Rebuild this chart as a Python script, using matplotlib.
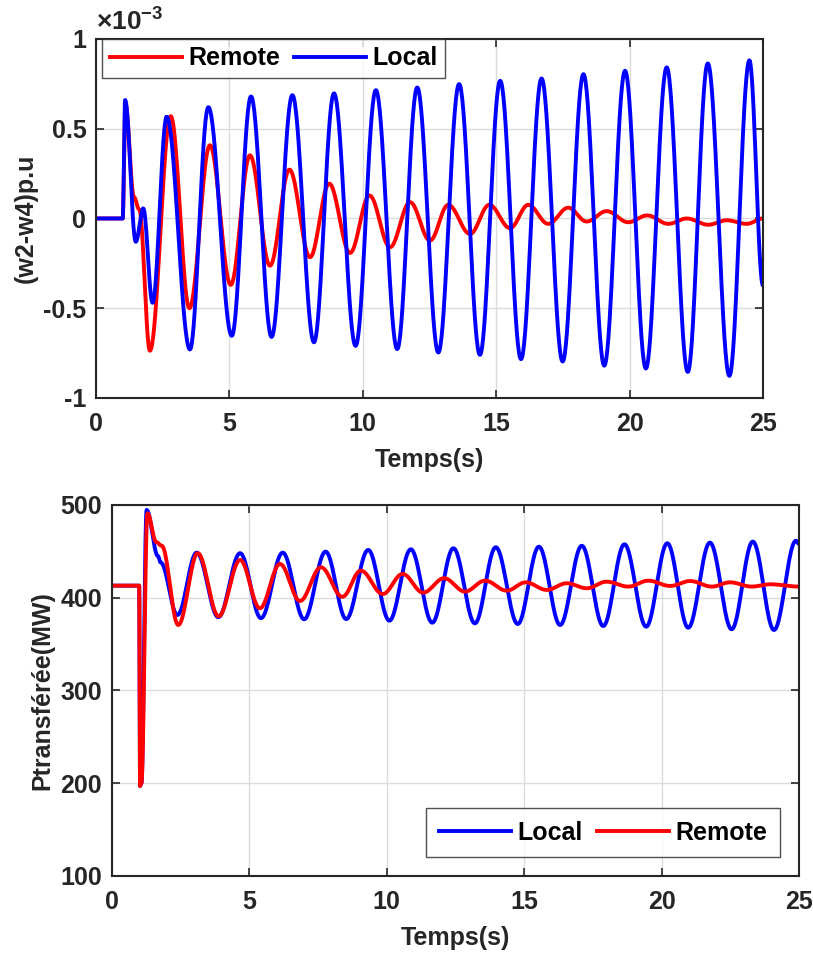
import numpy as np
import matplotlib
matplotlib.use('Agg')
import matplotlib.pyplot as plt

plt.rcParams['font.family'] = ['Liberation Sans', 'DejaVu Sans']
plt.rcParams['font.weight'] = 'bold'
plt.rcParams['mathtext.fontset'] = 'custom'
plt.rcParams['mathtext.rm'] = 'Liberation Sans'
plt.rcParams['mathtext.bf'] = 'Liberation Sans:bold'

# ---- top plot: speed difference (units of 1e-3 p.u), turning points
remote_w_t = [0, 1.0, 1.1, 1.42, 1.62, 2.02, 2.8, 3.5, 4.27, 5.05, 5.77, 6.52, 7.25, 8.02, 8.74,
              9.52, 10.25, 11.02, 11.77, 12.52, 13.2, 14.02, 14.74, 15.52, 16.2, 16.95, 17.7,
              18.39, 19.14, 19.95, 20.66, 21.45, 22.14, 22.95, 23.64, 24.39, 25.0]
remote_w_v = [0, 0, 0.64, 0.12, 0.05, -0.737, 0.57, -0.5, 0.408, -0.37, 0.352, -0.263, 0.272, -0.216, 0.194,
              -0.192, 0.128, -0.16, 0.091, -0.123, 0.076, -0.086, 0.076, -0.054, 0.076, -0.03, 0.06,
              -0.017, 0.041, -0.021, 0.017, -0.03, 0.0, -0.035, -0.01, -0.03, 0.0]
local_w_t = [0, 1.0, 1.09, 1.49, 1.77, 2.12, 2.65, 3.52, 4.21, 5.09, 5.81, 6.58, 7.36, 8.17, 8.92,
             9.73, 10.49, 11.29, 12.04, 12.83, 13.61, 14.39, 15.15, 15.93, 16.7, 17.49, 18.27,
             19.05, 19.83, 20.61, 21.39, 22.18, 22.93, 23.74, 24.49, 25.0]
local_w_v = [0, 0, 0.66, -0.13, 0.056, -0.47, 0.566, -0.73, 0.62, -0.654, 0.68, -0.66, 0.687, -0.69, 0.697,
             -0.71, 0.715, -0.728, 0.73, -0.747, 0.749, -0.76, 0.767, -0.784, 0.78, -0.797, 0.804,
             -0.82, 0.823, -0.836, 0.842, -0.855, 0.864, -0.877, 0.88, -0.374]

# ---- bottom plot: transferred power (MW)
local_p_t = [0, 1.0, 1.03, 1.08, 1.27, 1.68, 1.78, 2.39, 3.09, 3.88, 4.67, 5.43, 6.22, 7.0, 7.78, 8.53,
             9.33, 10.1, 10.88, 11.66, 12.43, 13.21, 13.97, 14.77, 15.54, 16.31, 17.1, 17.88,
             18.65, 19.44, 20.21, 20.97, 21.76, 22.55, 23.32, 24.09, 24.89, 25.0]
local_p_v = [413, 413, 197, 200, 494.6, 445, 438, 381.4, 448.6, 379, 448, 378, 448.6, 376.8, 449.7, 377,
             451.5, 375.3, 452.2, 373.1, 453.3, 372.4, 454.4, 371.7, 455, 370.6, 456, 369.5,
             457.6, 368.8, 458.7, 367.7, 459.4, 366, 460.5, 365.2, 461.5, 458]
remote_p_t = [0, 1.0, 1.03, 1.08, 1.3, 1.62, 1.82, 2.42, 3.13, 3.89, 4.67, 5.39, 6.12, 6.85, 7.61, 8.39,
              9.06, 9.86, 10.58, 11.33, 12.09, 12.85, 13.58, 14.37, 15.06, 15.82, 16.55, 17.28,
              18.0, 18.79, 19.52, 20.31, 21.04, 21.83, 22.49, 23.28, 23.95, 25.0]
remote_p_v = [413, 413, 197, 200, 491, 460, 456, 370.6, 448, 380, 440.7, 388.6, 436.4, 396.5, 432.8, 401,
              429.2, 404, 425.6, 405.5, 421, 406.6, 418.4, 407.6, 416.6, 408.4, 415.6, 410.2,
              417.3, 412, 418.4, 412.7, 418, 412, 416.6, 412, 414.5, 412]

FS = 18
TXT = '#262626'


def smooth(t_pts, v_pts, n=40):
    # cosine easing between successive turning points
    ts, vs = [], []
    for i in range(len(t_pts) - 1):
        s = np.linspace(0, 1, n)
        ts.append(t_pts[i] + (t_pts[i + 1] - t_pts[i]) * s)
        vs.append(v_pts[i] + (v_pts[i + 1] - v_pts[i]) * (1 - np.cos(np.pi * s)) / 2)
    return np.concatenate(ts), np.concatenate(vs)


def style_axes(ax):
    ax.grid(True, color='#dcdcdc', linewidth=1.0)
    ax.set_axisbelow(True)
    ax.tick_params(direction='in', length=6, width=1.2, top=True, right=True,
                   labelsize=FS, colors=TXT)
    ax.tick_params(axis='x', pad=10)
    ax.tick_params(axis='y', pad=7)
    for sp in ax.spines.values():
        sp.set_linewidth(1.5)
        sp.set_color(TXT)


def add_legend(ax, bpad=0.3, **kw):
    leg = ax.legend(ncol=2, fontsize=FS, handlelength=2.9, handletextpad=0.25,
                    columnspacing=0.55, borderpad=bpad, fancybox=False, **kw)
    leg.get_frame().set_edgecolor(TXT)
    leg.get_frame().set_linewidth(1.0)
    return leg


fig = plt.figure(figsize=(8.13, 9.58), dpi=100)

ax1 = fig.add_axes([0.1181, 0.5846, 0.8204, 0.3747])
t, v = smooth(remote_w_t, remote_w_v)
ax1.plot(t, v, color='red', linewidth=2.8, label='Remote')
t, v = smooth(local_w_t, local_w_v)
ax1.plot(t, v, color='blue', linewidth=2.8, label='Local')
ax1.set_xlim(0, 25)
ax1.set_ylim(-1, 1)
ax1.set_xticks([0, 5, 10, 15, 20, 25])
ax1.set_yticks([-1, -0.5, 0, 0.5, 1])
ax1.set_yticklabels(['-1', '-0.5', '0', '0.5', '1'])
style_axes(ax1)
ax1.set_xlabel('Temps(s)', fontsize=FS, fontweight='bold', color=TXT, labelpad=9)
ax1.set_ylabel('(w2-w4)p.u', fontsize=FS, fontweight='bold', color=TXT, labelpad=4)
ax1.text(0.0, 1.01, r'$\times\mathbf{10^{-3}}$', transform=ax1.transAxes, fontsize=19,
         color=TXT, ha='left', va='bottom')
add_legend(ax1, loc='upper left', borderaxespad=0.0, bbox_to_anchor=(0.009, 1.0))

ax2 = fig.add_axes([0.1374, 0.0856, 0.8454, 0.3873])
t, v = smooth(local_p_t, local_p_v)
ax2.plot(t, v, color='blue', linewidth=2.8, label='Local')
t, v = smooth(remote_p_t, remote_p_v)
ax2.plot(t, v, color='red', linewidth=2.8, label='Remote')
ax2.set_xlim(0, 25)
ax2.set_ylim(100, 500)
ax2.set_xticks([0, 5, 10, 15, 20, 25])
ax2.set_yticks([100, 200, 300, 400, 500])
style_axes(ax2)
ax2.set_xlabel('Temps(s)', fontsize=FS, fontweight='bold', color=TXT, labelpad=9)
ax2.set_ylabel('Ptransférée(MW)', fontsize=FS, fontweight='bold', color=TXT, labelpad=4)
add_legend(ax2, bpad=0.5, loc='lower right', borderaxespad=0.0, bbox_to_anchor=(0.972, 0.051))

fig.savefig('out.png', dpi=100)
